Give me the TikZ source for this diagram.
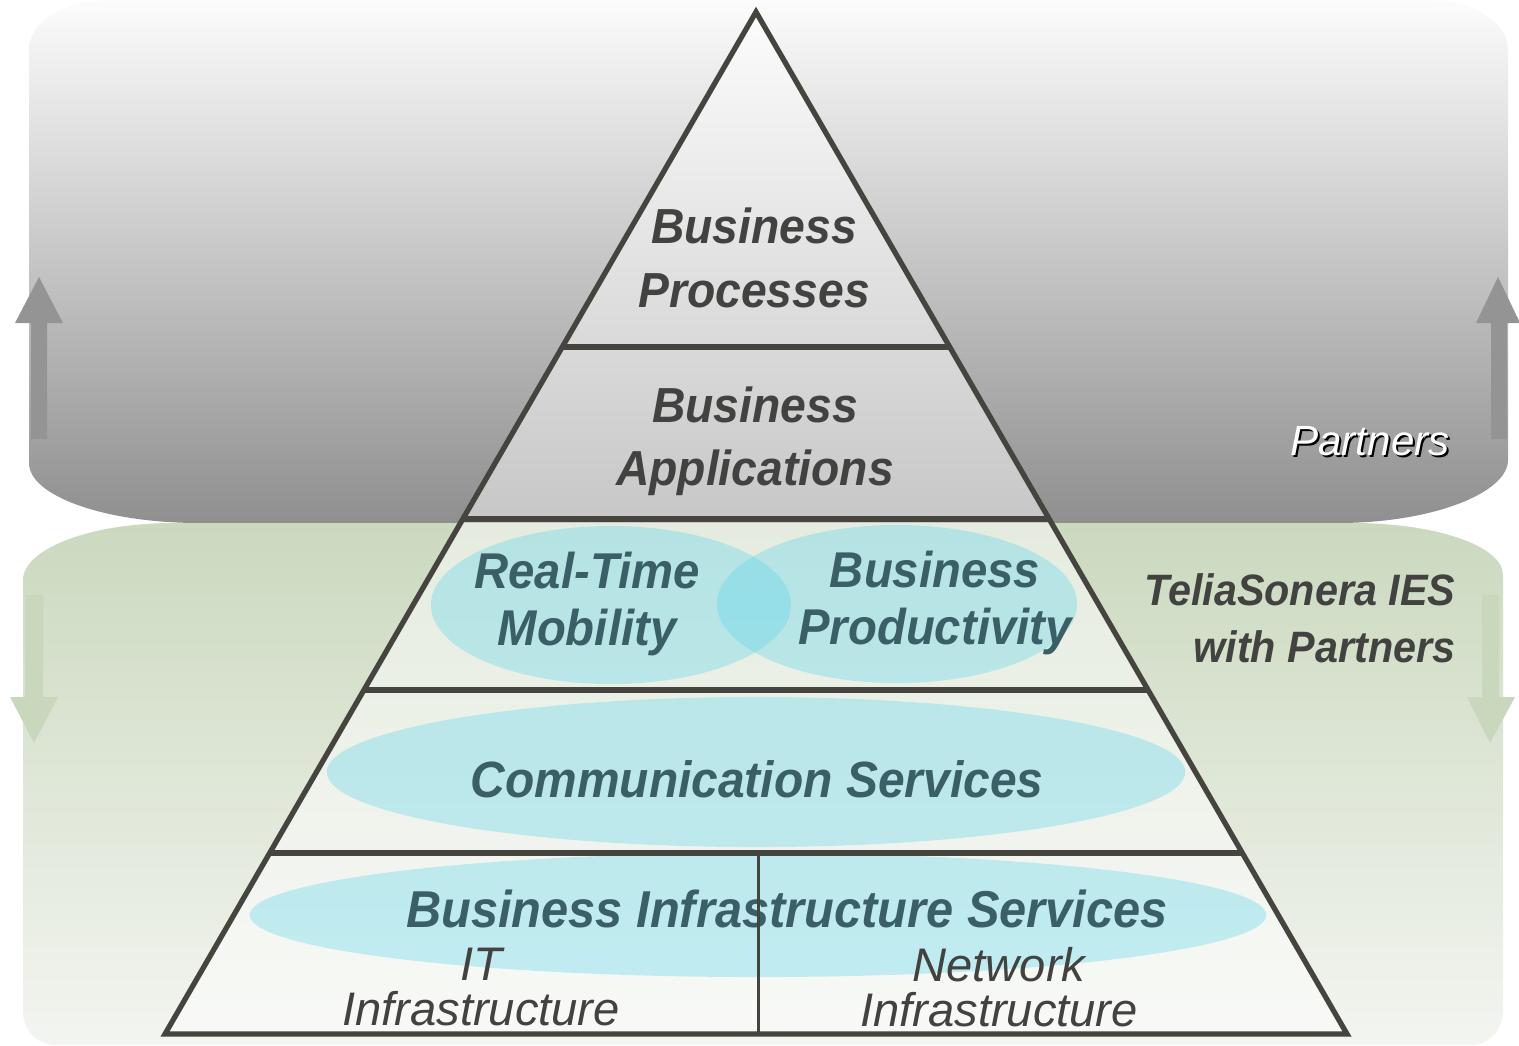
\documentclass[tikz,border=0pt]{standalone}
\usepackage{fontspec}
\setmainfont{Liberation Sans}
\newfontfamily\pyrfont{Liberation Sans}[FakeStretch=0.94]
\usetikzlibrary{calc}

\definecolor{edgegray}{RGB}{69,68,62}
\definecolor{textgray}{RGB}{66,66,64}
\definecolor{tealtext}{RGB}{58,95,102}
\definecolor{bubble}{RGB}{94,213,236}
\definecolor{graytop}{RGB}{252,252,252}
\definecolor{graybot}{RGB}{143,143,143}
\definecolor{greentop}{RGB}{203,217,191}
\definecolor{greenbot}{RGB}{243,245,240}
\definecolor{uparrow}{RGB}{148,148,148}
\definecolor{downarrow}{RGB}{201,215,188}

\tikzset{
  pyrline/.style={draw=edgegray, line width=1.5pt, line join=miter},
  bubblefill/.style={fill=bubble, fill opacity=0.35},
  layertext/.style 2 args={font={\pyrfont\bfseries\itshape\fontsize{#1}{#2}\selectfont},
    text=textgray, align=center, inner sep=0pt},
  bubbletext/.style 2 args={layertext={#1}{#2}, text=tealtext},
  plaintext/.style 2 args={font={\itshape\fontsize{#1}{#2}\selectfont},
    text=textgray, align=center, inner sep=0pt}
}

\begin{document}
\begin{tikzpicture}[x=0.01cm, y=-0.01cm]
\useasboundingbox (0,0) rectangle (1519,1045);

% bands behind the pyramid
\shade[top color=graytop, bottom color=graybot]
  (29,50) .. controls (29,22) and (62,0) .. (115,0) -- (1422,0)
  .. controls (1475,0) and (1508,22) .. (1508,50) -- (1508,460)
  .. controls (1508,493) and (1432,523) .. (1338,523) -- (199,523)
  .. controls (105,523) and (29,496) .. (29,463) -- cycle;
\shade[top color=greentop, bottom color=greenbot]
  (23,580) .. controls (23,549) and (90,523) .. (173,523) -- (1353,523)
  .. controls (1436,523) and (1503,546) .. (1503,575) -- (1503,1010)
  .. controls (1503,1030) and (1490,1045) .. (1470,1045) -- (56,1045)
  .. controls (36,1045) and (23,1030) .. (23,1010) -- cycle;

% up and down arrows
\fill[uparrow] (31,439) -- (31,323) -- (15,323) -- (39,277) -- (63,323) -- (47,323) -- (47,439) -- cycle;
\fill[uparrow] (1491,439) -- (1491,323) -- (1476,323) -- (1498,277) -- (1520,323) -- (1507,323) -- (1507,439) -- cycle;
\fill[downarrow] (25,595) -- (25,697) -- (10,697) -- (34,743) -- (58,697) -- (43,697) -- (43,595) -- cycle;
\fill[downarrow] (1482,595) -- (1482,697) -- (1467,697) -- (1490,743) -- (1515,697) -- (1499,697) -- (1499,595) -- cycle;

% pyramid
\coordinate (top) at (756,12);
\coordinate (bl) at (165,1034);
\coordinate (br) at (1347,1034);
\coordinate (l1) at ($(top)!0.3278!(bl)$); % processes / applications
\coordinate (r1) at ($(top)!0.3278!(br)$);
\coordinate (l2) at ($(top)!0.4961!(bl)$); % applications / mobility
\coordinate (r2) at ($(top)!0.4961!(br)$);
\coordinate (l3) at ($(top)!0.6634!(bl)$); % communication
\coordinate (r3) at ($(top)!0.6634!(br)$);
\coordinate (l4) at ($(top)!0.8229!(bl)$); % infrastructure
\coordinate (r4) at ($(top)!0.8229!(br)$);
\coordinate (m1) at (758,853);
\coordinate (m2) at (758,1034);

\fill[white, fill opacity=0.5] (top) -- (br) -- (bl) -- cycle;

% bubbles
\fill[bubblefill] (611,605) ellipse [x radius=1.8cm, y radius=0.79cm];
\fill[bubblefill] (897,604) ellipse [x radius=1.8cm, y radius=0.79cm];
\fill[bubblefill] (756,772) ellipse [x radius=4.29cm, y radius=0.75cm];
\fill[bubblefill] (758,915) ellipse [x radius=5.08cm, y radius=0.62cm];

\node[layertext={14pt}{18.2pt}] (processes) at (754,258) {Business\\Processes};
\node[layertext={14pt}{18pt}] (applications) at (755,441) {Business\\Applications};
\node[bubbletext={14.3pt}{16.2pt}] (mobility) at (587,604) {Real-Time\\Mobility};
\node[bubbletext={14.3pt}{16.2pt}] (productivity) at (935,603) {Business\\Productivity};
\node[bubbletext={14.5pt}{17pt}, anchor=base] (communication) at (757,797) {Communication Services};
\node[bubbletext={14.75pt}{17pt}, anchor=base] (bis) at (787,927) {Business Infrastructure Services};
\node[plaintext={13.4pt}{12.6pt}] (itinfra) at (481,987) {IT\\Infrastructure};
\node[plaintext={13.4pt}{12.6pt}] (netinfra) at (999,987) {Network\\Infrastructure};

\draw[pyrline] (top) -- (br) -- (bl) -- cycle;
\draw[pyrline] (l1) -- (r1);
\draw[pyrline] (l2) -- (r2);
\draw[pyrline] (l3) -- (r3);
\draw[pyrline] (l4) -- (r4);
\draw[draw=edgegray, line width=0.85pt] (m1) -- (m2);

% side labels
\node[plaintext={12pt}{14pt}, text=black, anchor=base] (partnershadow) at (1372,457) {Partners};
\node[plaintext={12pt}{14pt}, text=white, anchor=base] (partners) at (1370,455) {Partners};
\node[layertext={12.5pt}{16.2pt}, align=right, anchor=east] (ies) at (1456,618) {TeliaSonera IES\\with Partners};
\end{tikzpicture}
\end{document}
